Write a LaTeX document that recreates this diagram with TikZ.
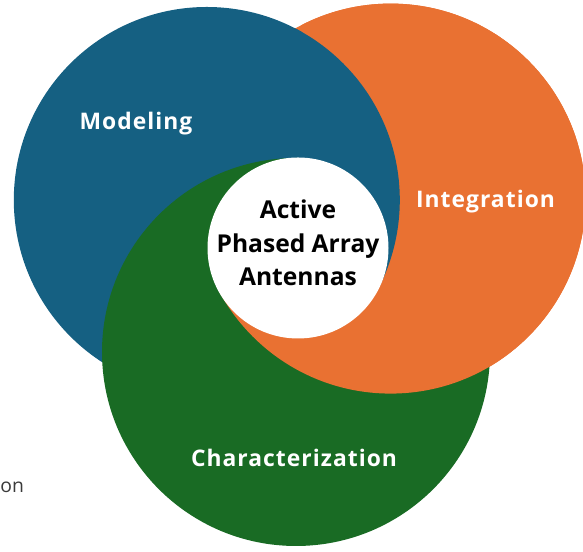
\documentclass[tikz,border=0pt]{standalone}
\usepackage{fontspec}
\setmainfont{Open Sans}
\newfontfamily\setfont[LetterSpace=4.5]{Open Sans}
\usepackage{xcolor}
\usetikzlibrary{positioning}
\definecolor{ModelBlue}{HTML}{156082}
\definecolor{IntOrange}{HTML}{E97132}
\definecolor{CharGreen}{HTML}{196B24}
\definecolor{NoteGray}{HTML}{3A3A3A}

% the three discs, each centred on a named coordinate
\newcommand{\modeldisk}{\fill[ModelBlue] (model) circle (3.86);}
\newcommand{\integdisk}{\fill[IntOrange] (integ) circle (3.90);}
\newcommand{\chardisk}{\fill[CharGreen] (charz) circle (3.88);}
% wedge round the hub, from angle #1 to angle #2
\newcommand{\wedgeclip}[2]{\clip (mid) -- ++(#1:12) arc[start angle=#1, end angle=#2, radius=12] -- cycle;}

\begin{document}
\begin{tikzpicture}[x=1cm,y=1cm]
  \tikzset{
    setlabel/.style={font=\setfont\bfseries\fontsize{13}{15}\selectfont, text=white},
    hub/.style={circle, fill=white, minimum size=3.62cm, inner sep=0pt},
    hublabel/.style={font=\bfseries\fontsize{14}{19}\selectfont, text=black, align=center},
    note/.style={font=\fontsize{11}{13}\selectfont, text=NoteGray}
  }
  \useasboundingbox (0,0) rectangle (11.66,11.04);

  \coordinate (model) at (4.136,7.04);
  \coordinate (integ) at (7.812,7.068);
  \coordinate (charz) at (5.92,4.00);
  \coordinate (mid)   at (5.96,6.08);

  % green over blue over orange to begin with
  \integdisk \modeldisk \chardisk
  % orange back over green below and right of the hub
  \begin{scope}
    \wedgeclip{208.08}{448.9}
    \integdisk
  \end{scope}
  % blue back on top on the right
  \begin{scope}
    \wedgeclip{332.24}{451}
    \modeldisk
  \end{scope}

  \node[hub] (hub) at (mid) {};
  \node[hublabel] (hubtxt) at (hub.center) [yshift=0.1cm] {Active\\Phased Array\\Antennas};

  \node[setlabel] (modeltxt) at (2.72,8.57) {Modeling};
  \node[setlabel] (integtxt) at (9.71,7.00) {Integration};
  \node[setlabel] (chartxt)  at (5.88,1.88) {Characterization};

  \node[note, anchor=base west, inner sep=0pt] (cuttxt) at (0.0,1.18) {on};
\end{tikzpicture}
\end{document}
